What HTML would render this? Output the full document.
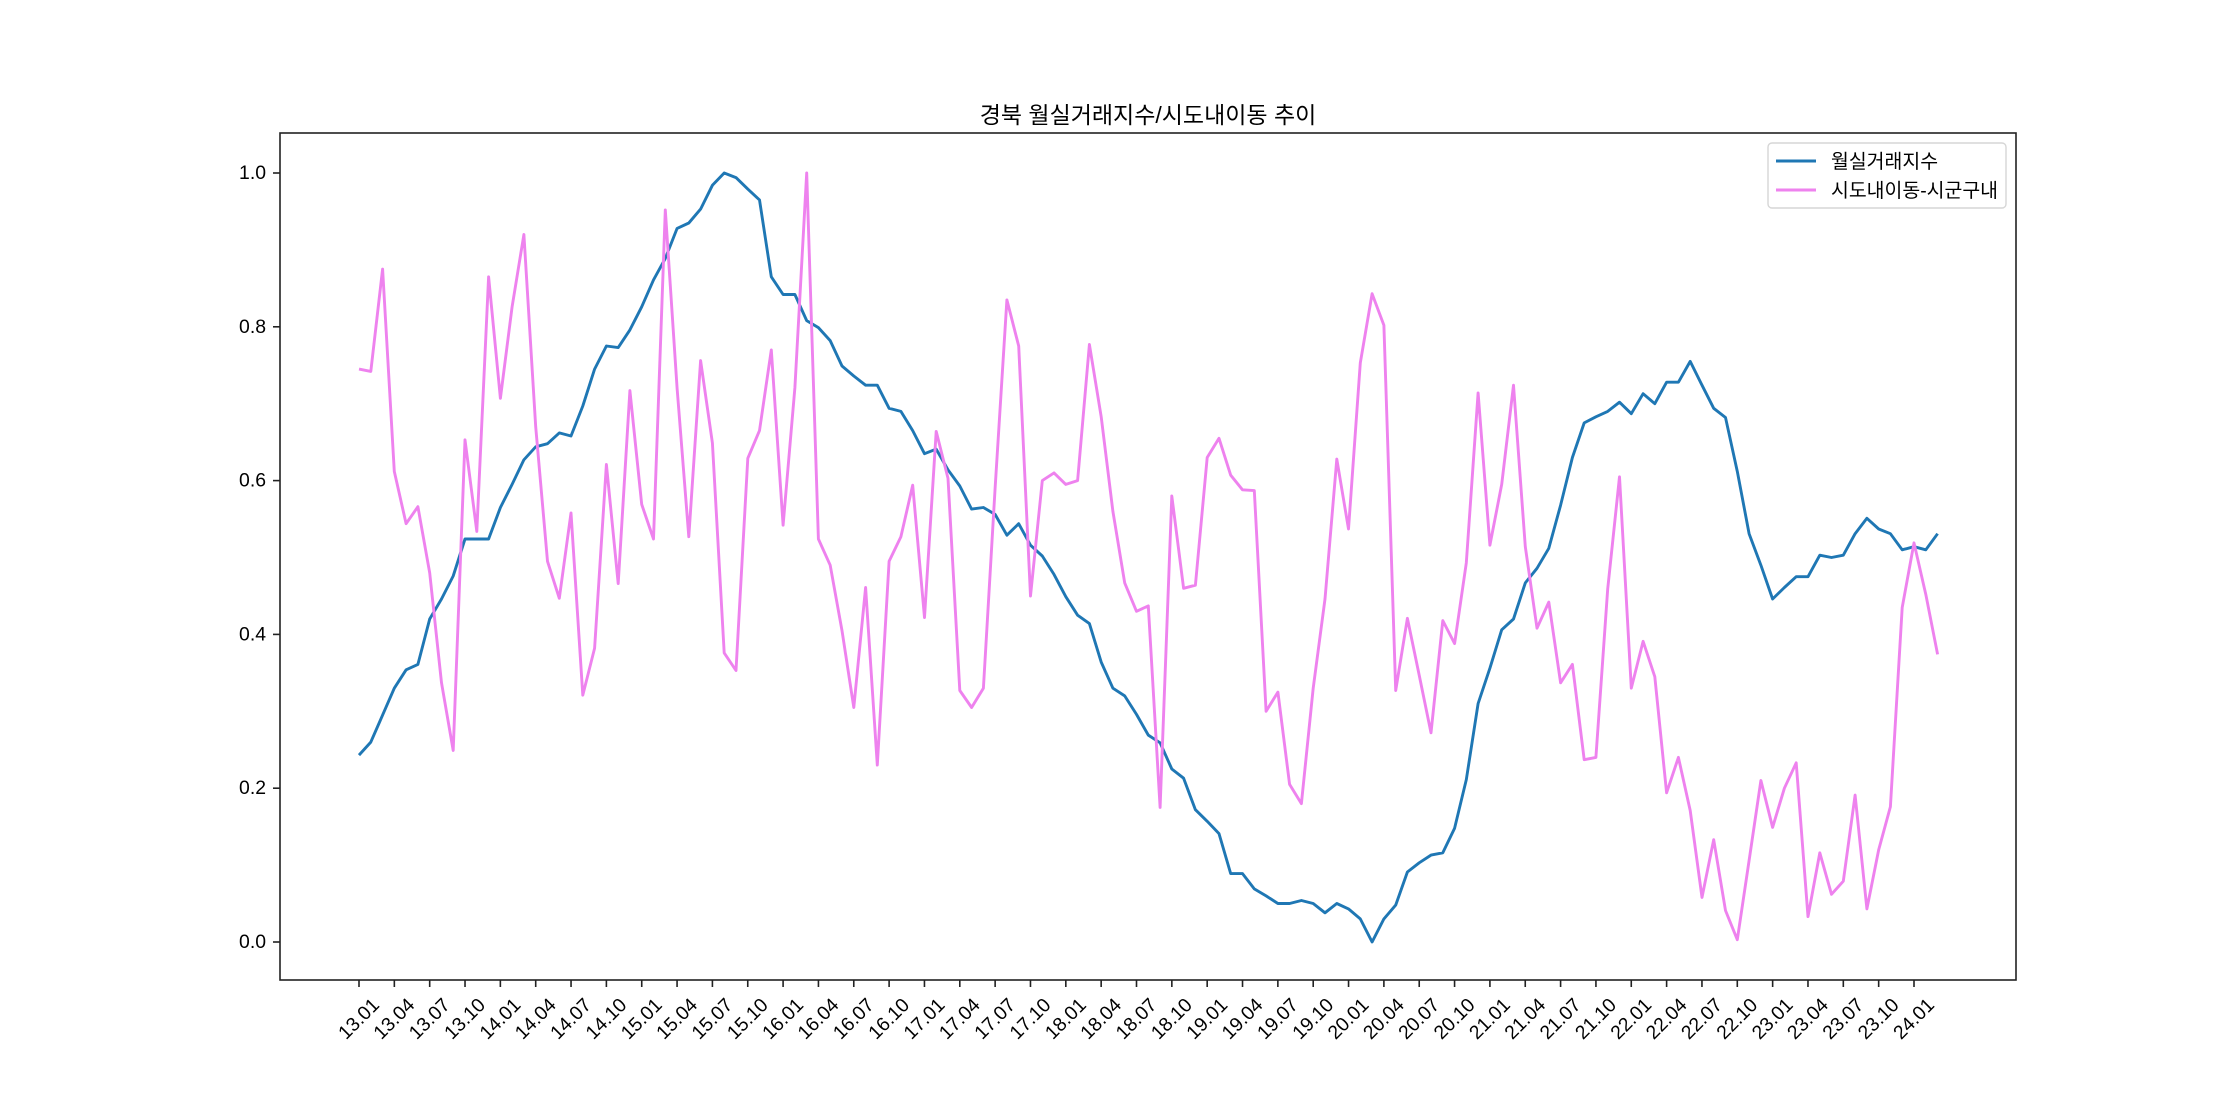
<!DOCTYPE html>
<html><head><meta charset="utf-8">
<style>
html,body{margin:0;padding:0;background:#fff;}
svg{display:block;font-family:"Liberation Sans","Noto Sans CJK KR","NanumGothic",sans-serif;}
</style></head>
<body>
<svg id="chart" width="2240" height="1120" viewBox="0 0 2240 1120" xmlns="http://www.w3.org/2000/svg">
<rect x="0" y="0" width="2240" height="1120" fill="#fff"/>
<text x="1148" y="123" font-size="23" text-anchor="middle" fill="#000">경북 월실거래지수/시도내이동 추이</text>
<g id="grid"></g>
<g id="series"></g>
<rect x="280" y="133" width="1736" height="847" fill="none" stroke="#222" stroke-width="1.6"/>
<g id="xticks"></g>
<g id="yticks"></g>
<g>
<rect x="1768" y="143" width="238" height="65" rx="4" fill="#fff" fill-opacity="0.8" stroke="#d6d6d6" stroke-width="1.4"/>
<line x1="1776" y1="161" x2="1816" y2="161" stroke="#1f77b4" stroke-width="2.9"/>
<text x="1831" y="168" font-size="19.4" fill="#000">월실거래지수</text>
<line x1="1776" y1="190" x2="1816" y2="190" stroke="#ee82ee" stroke-width="2.9"/>
<text x="1831" y="197" font-size="19.4" fill="#000">시도내이동-시군구내</text>
</g>
</svg>
<script>
const tickLabels = ["13.01","13.04","13.07","13.10","14.01","14.04","14.07","14.10","15.01","15.04","15.07","15.10","16.01","16.04","16.07","16.10","17.01","17.04","17.07","17.10","18.01","18.04","18.07","18.10","19.01","19.04","19.07","19.10","20.01","20.04","20.07","20.10","21.01","21.04","21.07","21.10","22.01","22.04","22.07","22.10","23.01","23.04","23.07","23.10","24.01"];
const yTickValues = [0.0,0.2,0.4,0.6,0.8,1.0];
const yTickLabels = ["0.0","0.2","0.4","0.6","0.8","1.0"];
const rentIndex = [0.243,0.260,0.295,0.330,0.354,0.361,0.420,0.446,0.476,0.524,0.524,0.524,0.565,0.595,0.627,0.644,0.648,0.662,0.658,0.697,0.745,0.775,0.773,0.796,0.826,0.861,0.889,0.928,0.935,0.953,0.984,1.000,0.994,0.979,0.965,0.865,0.842,0.842,0.808,0.799,0.782,0.749,0.736,0.724,0.724,0.694,0.690,0.665,0.635,0.641,0.614,0.593,0.563,0.565,0.556,0.529,0.544,0.516,0.502,0.478,0.449,0.425,0.414,0.364,0.330,0.320,0.296,0.269,0.259,0.225,0.213,0.172,0.157,0.141,0.089,0.089,0.069,0.060,0.050,0.050,0.054,0.050,0.038,0.050,0.043,0.030,0.000,0.030,0.048,0.091,0.103,0.113,0.116,0.148,0.211,0.310,0.356,0.406,0.420,0.467,0.486,0.512,0.568,0.630,0.675,0.683,0.690,0.702,0.687,0.713,0.700,0.728,0.728,0.755,0.724,0.694,0.682,0.612,0.531,0.490,0.446,0.461,0.475,0.475,0.503,0.500,0.503,0.531,0.551,0.537,0.531,0.510,0.514,0.510,0.531];
const migration = [0.745,0.742,0.875,0.612,0.544,0.566,0.480,0.337,0.249,0.653,0.534,0.865,0.707,0.826,0.920,0.670,0.495,0.447,0.558,0.321,0.382,0.621,0.466,0.717,0.569,0.524,0.952,0.720,0.527,0.756,0.649,0.376,0.353,0.629,0.665,0.770,0.542,0.721,1.000,0.524,0.490,0.405,0.305,0.461,0.230,0.495,0.527,0.594,0.422,0.664,0.603,0.327,0.305,0.330,0.590,0.835,0.775,0.450,0.600,0.610,0.595,0.600,0.777,0.683,0.560,0.467,0.430,0.437,0.175,0.580,0.460,0.464,0.630,0.655,0.607,0.588,0.587,0.300,0.325,0.205,0.180,0.330,0.446,0.628,0.537,0.753,0.843,0.802,0.327,0.421,0.347,0.272,0.418,0.388,0.493,0.714,0.516,0.595,0.724,0.514,0.408,0.442,0.337,0.361,0.237,0.240,0.459,0.605,0.330,0.391,0.345,0.194,0.240,0.171,0.058,0.133,0.041,0.003,0.106,0.210,0.149,0.200,0.233,0.033,0.116,0.062,0.079,0.191,0.043,0.120,0.176,0.435,0.519,0.452,0.374];

const NS = "http://www.w3.org/2000/svg";
const X0 = 359, DX = (1914 - 359) / 132;
const Y0 = 942, Y1 = 173;
function xPos(i){ return X0 + i * DX; }
function yPos(v){ return Y0 - v * (Y0 - Y1); }

const xt = document.getElementById('xticks');
tickLabels.forEach((lab, k) => {
  const x = xPos(k * 3);
  const t = document.createElementNS(NS, 'line');
  t.setAttribute('x1', x); t.setAttribute('x2', x);
  t.setAttribute('y1', 980); t.setAttribute('y2', 987);
  t.setAttribute('stroke', '#222'); t.setAttribute('stroke-width', '1.6');
  
  
  xt.appendChild(t);
  const tx = document.createElementNS(NS, 'text');
  tx.setAttribute('x', x); tx.setAttribute('y', 1019);
  tx.setAttribute('text-anchor', 'middle');
  tx.setAttribute('dominant-baseline', 'central');
  tx.setAttribute('font-size', '19.4');
  tx.setAttribute('transform', 'rotate(-45 ' + x + ' 1019)');
  
  
  tx.textContent = lab;
  xt.appendChild(tx);
});

const yt = document.getElementById('yticks');
yTickValues.forEach((v, k) => {
  const y = yPos(v);
  const t = document.createElementNS(NS, 'line');
  t.setAttribute('x1', 273); t.setAttribute('x2', 280);
  t.setAttribute('y1', y); t.setAttribute('y2', y);
  t.setAttribute('stroke', '#222'); t.setAttribute('stroke-width', '1.6');
  
  
  yt.appendChild(t);
  const tx = document.createElementNS(NS, 'text');
  tx.setAttribute('x', 266); tx.setAttribute('y', y);
  tx.setAttribute('text-anchor', 'end');
  tx.setAttribute('dominant-baseline', 'central');
  tx.setAttribute('font-size', '19.4');
  
  
  tx.textContent = yTickLabels[k];
  yt.appendChild(tx);
});

const sg = document.getElementById('series');
function drawLine(arr, color, name){
  const p = document.createElementNS(NS, 'polyline');
  p.setAttribute('points', arr.map((v, i) => xPos(i).toFixed(1) + ',' + yPos(v).toFixed(1)).join(' '));
  p.setAttribute('fill', 'none');
  p.setAttribute('stroke', color);
  p.setAttribute('stroke-width', '2.9');
  p.setAttribute('stroke-linejoin', 'round');
  
  
  sg.appendChild(p);
}
drawLine(rentIndex, '#1f77b4', 'rent-index-line');
drawLine(migration, '#ee82ee', 'migration-line');
</script>
</body></html>
